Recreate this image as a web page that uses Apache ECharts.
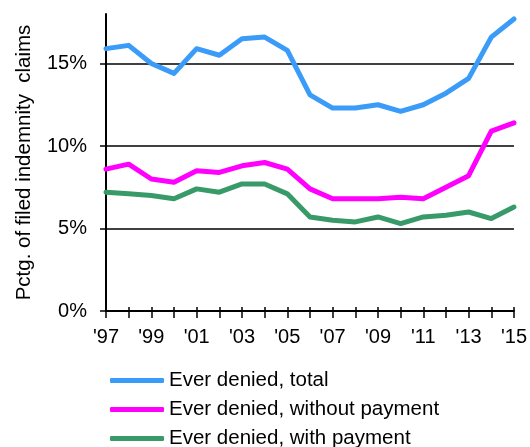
<!DOCTYPE html>
<html>
<head>
<meta charset="utf-8">
<script src="https://cdn.jsdelivr.net/npm/echarts@6/dist/echarts.min.js"></script>
<style>
  html, body { margin: 0; padding: 0; background: #fff; }
  #chart { width: 530px; height: 447px; }
</style>
</head>
<body>
<div id="chart"></div>
<script>
// Share of filed indemnity claims that were ever denied, 1997-2015
const years = ["'97", "'98", "'99", "'00", "'01", "'02", "'03", "'04", "'05", "'06",
               "'07", "'08", "'09", "'10", "'11", "'12", "'13", "'14", "'15"];
const deniedTotal = [15.9, 16.1, 15.0, 14.4, 15.9, 15.5, 16.5, 16.6, 15.8, 13.1,
                     12.3, 12.3, 12.5, 12.1, 12.5, 13.2, 14.1, 16.6, 17.7];
const deniedWithoutPayment = [8.6, 8.9, 8.0, 7.8, 8.5, 8.4, 8.8, 9.0, 8.6, 7.4,
                              6.8, 6.8, 6.8, 6.9, 6.8, 7.5, 8.2, 10.9, 11.4];
const deniedWithPayment = [7.2, 7.1, 7.0, 6.8, 7.4, 7.2, 7.7, 7.7, 7.1, 5.7,
                           5.5, 5.4, 5.7, 5.3, 5.7, 5.8, 6.0, 5.6, 6.3];
const yTicks = [0, 5, 10, 15];
const gridValues = [5, 10, 15];

const FONT = '"Liberation Sans", Arial, sans-serif';
const chart = echarts.init(document.getElementById('chart'), null, { renderer: 'canvas' });

function lineSeries(name, data, color) {
  return {
    name: name,
    type: 'line',
    data: data,
    xAxisIndex: 0,
    symbol: 'none',
    smooth: false,
    lineStyle: { color: color, width: 5, cap: 'round', join: 'round' },
    itemStyle: { color: color },
    emphasis: { disabled: true },
    z: 3
  };
}

const series = [
  lineSeries('Ever denied, total', deniedTotal, '#3a9cf8'),
  lineSeries('Ever denied, without payment', deniedWithoutPayment, '#ff00ff'),
  lineSeries('Ever denied, with payment', deniedWithPayment, '#389a68')
];
// horizontal gridlines under the lines
series[0].markLine = {
  silent: true,
  symbol: 'none',
  z: 1,
  label: { show: false },
  lineStyle: { color: '#000', width: 1.5, type: 'solid' },
  emphasis: { disabled: true },
  data: gridValues.map(v => ({ yAxis: v }))
};

chart.setOption({
  animation: false,
  backgroundColor: '#fff',
  grid: { left: 106, right: 13, top: 14, bottom: 136, containLabel: false },
  xAxis: [
    {
      type: 'category',
      data: years,
      boundaryGap: false,
      axisLine: { show: true, lineStyle: { color: '#000', width: 2 } },
      axisTick: { show: true, interval: 0, length: 7, lineStyle: { color: '#000', width: 1.5 } },
      axisLabel: { interval: 1, color: '#000', fontFamily: FONT, fontSize: 20, margin: 16 },
      splitLine: { show: false }
    },
    {
      type: 'category',
      data: years,
      boundaryGap: false,
      position: 'bottom',
      axisLine: { show: false },
      axisTick: { show: true, inside: true, interval: 0, length: 4, lineStyle: { color: '#000', width: 1.5 } },
      axisLabel: { show: false },
      splitLine: { show: false }
    }
  ],
  yAxis: {
    type: 'value',
    min: 0,
    max: 18,
    interval: 5,
    name: 'Pctg. of filed indemnity  claims',
    nameLocation: 'middle',
    nameGap: 71,
    nameTextStyle: { color: '#000', fontFamily: FONT, fontSize: 20.5 },
    axisLine: { show: true, lineStyle: { color: '#000', width: 2 } },
    axisTick: { show: true, length: 6, customValues: yTicks, lineStyle: { color: '#000', width: 1.5 } },
    axisLabel: {
      customValues: yTicks,
      color: '#000', fontFamily: FONT, fontSize: 20, margin: 19,
      formatter: v => (v === 18 ? '' : v + '%')
    },
    splitLine: { show: false }
  },
  legend: {
    orient: 'vertical',
    left: 110,
    top: 370,
    height: 120,
    padding: 0,
    itemWidth: 54,
    itemHeight: 5,
    itemGap: 8,
    icon: 'roundRect',
    selectedMode: false,
    textStyle: { color: '#000', fontFamily: FONT, fontSize: 20.5, lineHeight: 18 },
    data: series.map(s => s.name)
  },
  series: series
});
</script>
</body>
</html>
